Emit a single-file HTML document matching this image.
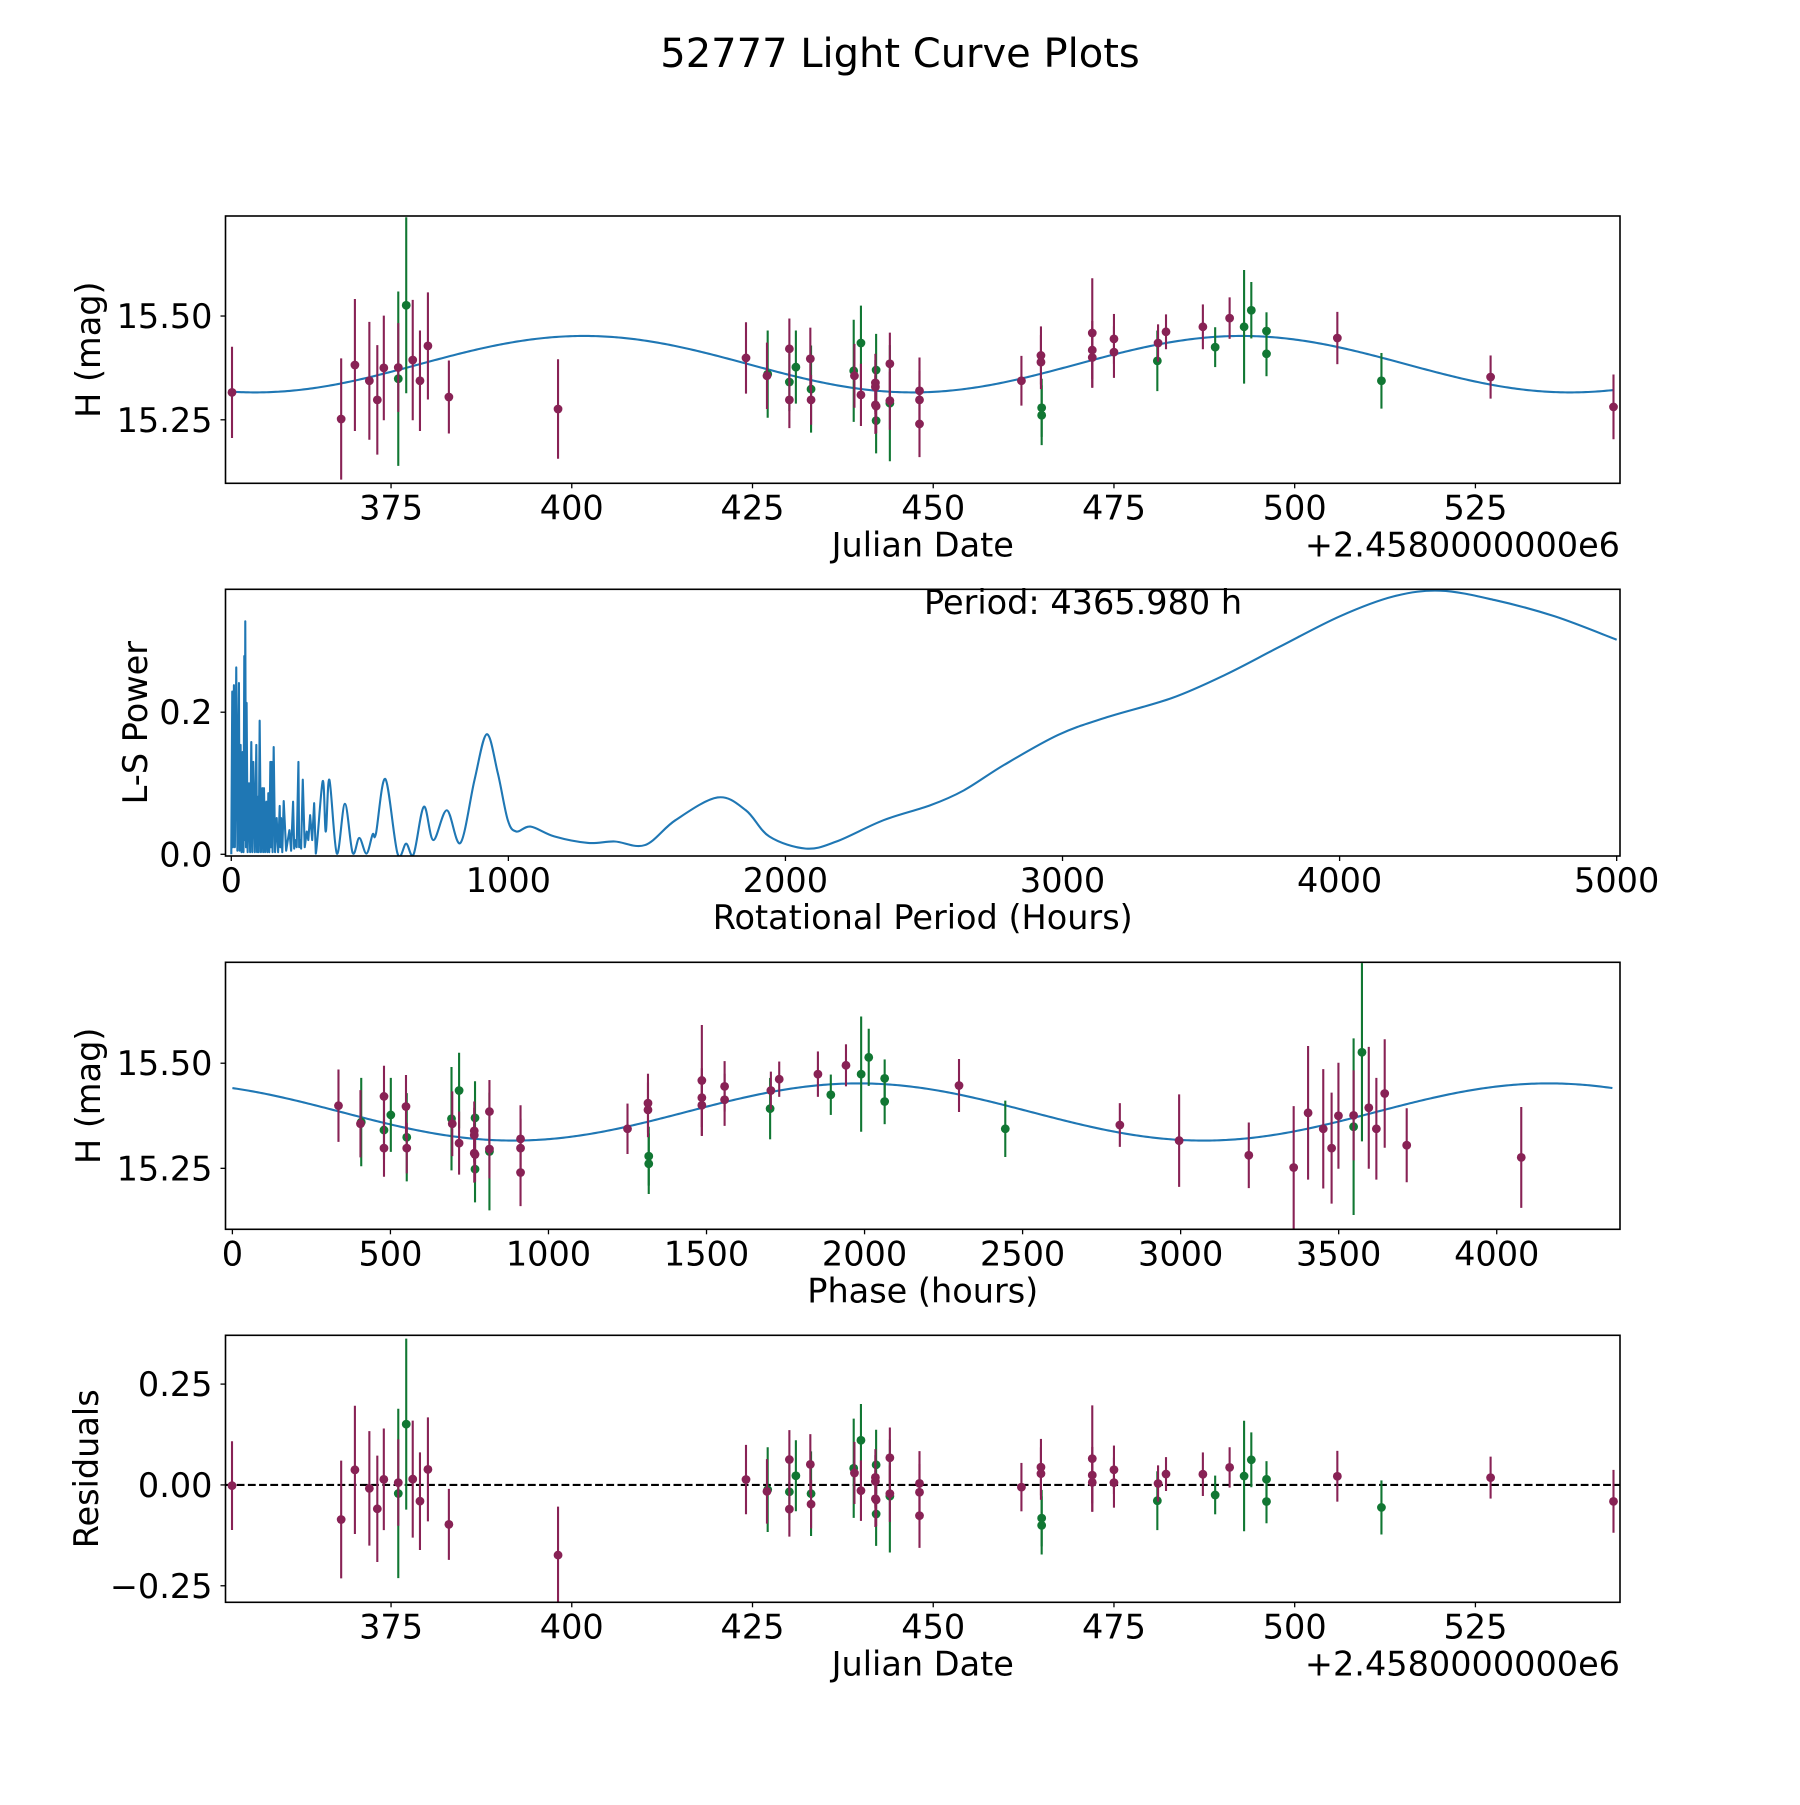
<!DOCTYPE html>
<html><head><meta charset="utf-8"><title>52777 Light Curve Plots</title>
<style>
html,body{margin:0;padding:0;background:#fff;}
svg text{font-family:"DejaVu Sans","Liberation Sans",sans-serif;fill:#000;}
</style></head>
<body>
<svg id="fig" xmlns="http://www.w3.org/2000/svg" width="1800" height="1800" viewBox="0 0 1800 1800">
<rect width="1800" height="1800" fill="#fff"/>
<text x="900" y="67" font-size="40" text-anchor="middle">52777 Light Curve Plots</text>
</svg>
<script>
// ---------- data ----------
const purpleJD  = [353.0,368.1,370.0,372.0,373.1,374.0,376.0,378.0,379.0,380.1,383.0,398.1,424.1,427.0,430.1,430.1,433.0,433.1,439.1,440.0,442.0,442.0,442.0,442.1,444.0,444.0,448.1,448.1,448.1,462.2,464.9,464.9,472.0,472.0,472.0,475.0,475.0,481.1,482.2,487.3,491.0,505.9,527.1,544.1];
const purpleMag = [15.316,15.252,15.382,15.344,15.298,15.375,15.376,15.394,15.344,15.428,15.305,15.276,15.399,15.356,15.421,15.298,15.397,15.298,15.356,15.310,15.339,15.329,15.286,15.283,15.385,15.296,15.320,15.298,15.240,15.344,15.405,15.389,15.459,15.418,15.400,15.445,15.413,15.435,15.462,15.474,15.495,15.447,15.353,15.281];
const purpleErr = [0.110,0.146,0.159,0.142,0.132,0.126,0.107,0.145,0.121,0.129,0.088,0.120,0.086,0.080,0.073,0.068,0.075,0.060,0.077,0.075,0.070,0.065,0.070,0.065,0.075,0.070,0.080,0.070,0.080,0.060,0.070,0.065,0.132,0.070,0.072,0.060,0.062,0.045,0.042,0.054,0.050,0.063,0.052,0.078];
const greenJD  = [376.0,377.1,427.1,430.1,431.0,433.1,439.0,440.0,442.1,442.1,444.0,465.0,465.0,481.0,489.0,493.0,494.0,496.1,496.1,512.0];
const greenMag = [15.349,15.526,15.360,15.341,15.377,15.324,15.368,15.435,15.370,15.248,15.290,15.279,15.261,15.392,15.425,15.474,15.514,15.464,15.409,15.344];
const greenErr = [0.210,0.212,0.105,0.070,0.088,0.105,0.123,0.090,0.087,0.079,0.140,0.070,0.072,0.073,0.048,0.137,0.068,0.045,0.054,0.067];
// fitted model parameters
const modelMean = [15.384];
const modelAmp = [0.068];
const modelPeak = [401.7];
const periodHours = [4365.98];
const phaseZeroJD = [228.2];
// Lomb-Scargle periodogram (period hours, power)
const lsPeriod = [0,3.5,6,9.5,13,17.9,22,27.6,30,33.6,37,40.9,44,46.9,48.5,50.5,53,55.3,59,63.8,68,72.2,76,79.5,85,90.3,93,96.4,99,102.4,107,112,115,118,122,126.5,130,133.7,137,141,143.5,145.8,149,153,158,163.9,169,174.7,177,179.6,184,189.2,198,209.7,216,223,227,230.2,236,242.3,245,247.1,252,258,265,272.4,278,284.5,292,299,305,
 330,341,354,381,410,438,462,488,510,522,556,600,631,658,695,729,778,827,878,922,962,998,1029,1080,1167,1288,1384,1493,1603,1755,1857,1942,2074,2184,2354,2523,2644,2790,2984,3153,3395,3589,3783,4001,4195,4364,4558,4776,5000];
const lsPower = [0,0.229,0.01,0.238,0.01,0.263,0.005,0.241,0.005,0.154,0.003,0.144,0.003,0.279,0.02,0.328,0.01,0.213,0.003,0.100,0.003,0.158,0.003,0.130,0.003,0.154,0.003,0.081,0.003,0.188,0.003,0.093,0.003,0.093,0.003,0.074,0.003,0.086,0.003,0.130,0.01,0.130,0.003,0.151,0.003,0.051,0.003,0.068,0.01,0.051,0.003,0.075,0.005,0.034,0.005,0.074,0.008,0.020,0.01,0.130,0.01,0.020,0.008,0.105,0.01,0.032,0.02,0.055,0.02,0.072,0.001,
 0.103,0.032,0.105,0.001,0.071,0.002,0.023,0.001,0.028,0.029,0.106,0.001,0.015,0.0,0.067,0.020,0.062,0.016,0.105,0.169,0.114,0.048,0.032,0.039,0.025,0.016,0.018,0.013,0.048,0.080,0.062,0.025,0.008,0.018,0.048,0.069,0.090,0.126,0.168,0.192,0.220,0.253,0.292,0.335,0.363,0.371,0.358,0.335,0.302];
const lsSmoothFrom = [305];
const jdTicks = [375,400,425,450,475,500,525];
const magTicks = [15.25,15.50];
const magTickLabels = ["15.25","15.50"];
const lsXTicks = [0,1000,2000,3000,4000,5000];
const lsYTicks = [0.0,0.2];
const lsYTickLabels = ["0.0","0.2"];
const phaseTicks = [0,500,1000,1500,2000,2500,3000,3500,4000];
const residTicks = [-0.25,0.0,0.25];
const residTickLabels = ["\u22120.25","0.00","0.25"];

// ---------- helpers ----------
const NS = "http://www.w3.org/2000/svg";
const svg = document.getElementById('fig');
const PURPLE = "#882255", GREEN = "#117733", BLUE = "#1f77b4";
const FS = 33.5;
function mk(tag, attrs, parent){ const e = document.createElementNS(NS, tag); for (const k in attrs) e.setAttribute(k, attrs[k]); (parent||svg).appendChild(e); return e; }
function model(t){ return modelMean[0] + modelAmp[0]*Math.cos(4*Math.PI*(t-modelPeak[0])/(periodHours[0]/24)); }
function phaseOf(t){ let p = ((t - phaseZeroJD[0])*24) % periodHours[0]; if (p<0) p += periodHours[0]; return p; }
const L = 225.5, R = 1620;
function panel(name, top, bottom, xmin, xmax, ymin, ymax){
  const g = mk('g', {});
  
  
  const id = 'clip-' + name;
  const cp = mk('clipPath', {id: id}, g);
  mk('rect', {x: L, y: top, width: R-L, height: bottom-top}, cp);
  const plot = mk('g', {'clip-path': 'url(#' + id + ')'}, g);
  return { g, plot, top, bottom,
    sx: v => L + (v - xmin)/(xmax - xmin)*(R-L),
    sy: v => bottom - (v - ymin)/(ymax - ymin)*(bottom-top) };
}
function frame(p){
  const f = mk('rect', {x: L, y: p.top, width: R-L, height: p.bottom-p.top, fill: 'none', stroke: '#000', 'stroke-width': 1.6}, p.g);
  
  
}
function xticks(p, vals, labels){
  vals.forEach((v,i) => {
    const x = p.sx(v);
    mk('line', {x1: x, x2: x, y1: p.bottom, y2: p.bottom+5, stroke: '#000', 'stroke-width': 1.3}, p.g);
    const t = mk('text', {x: x, y: p.bottom+36, 'font-size': FS, 'text-anchor': 'middle'}, p.g);
    
    
    t.textContent = labels ? labels[i] : String(v);
  });
}
function yticks(p, vals, labels){
  vals.forEach((v,i) => {
    const y = p.sy(v);
    mk('line', {x1: L-5, x2: L, y1: y, y2: y, stroke: '#000', 'stroke-width': 1.3}, p.g);
    const t = mk('text', {x: L-13, y: y+12, 'font-size': FS, 'text-anchor': 'end'}, p.g);
    
    
    t.textContent = labels[i];
  });
}
function xlabel(p, txt, name){
  const t = mk('text', {x: (L+R)/2, y: p.bottom+73, 'font-size': FS, 'text-anchor': 'middle'}, p.g);
  
  
  t.textContent = txt;
}
function ylabel(p, txt, x, name){
  const cy = (p.top+p.bottom)/2;
  const t = mk('text', {x: x, y: cy, 'font-size': FS, 'text-anchor': 'middle', transform: 'rotate(-90 ' + x + ' ' + cy + ')'}, p.g);
  
  
  t.textContent = txt;
}
function offsetText(p){
  const t = mk('text', {x: R, y: p.bottom+73, 'font-size': FS, 'text-anchor': 'end'}, p.g);
  
  
  t.textContent = '+2.4580000000e6';
}
function points(p, xs, ys, es, color, name){
  const g = mk('g', {}, p.plot);
  
  
  xs.forEach((xv,i) => {
    const x = p.sx(xv);
    const bar = mk('line', {x1: x, x2: x, y1: p.sy(ys[i]-es[i]), y2: p.sy(ys[i]+es[i]), stroke: color, 'stroke-width': 2.1}, g);
    
    
  });
  xs.forEach((xv,i) => {
    const c = mk('circle', {cx: p.sx(xv), cy: p.sy(ys[i]), r: 4.4, fill: color}, g);
    
    
  });
}
function curve(p, f, a, b, name){
  let d = '';
  const n = 600;
  for (let i=0;i<=n;i++){ const v = a + (b-a)*i/n; d += (i?'L':'M') + p.sx(v).toFixed(2) + ',' + p.sy(f(v)).toFixed(2); }
  const path = mk('path', {d: d, fill: 'none', stroke: BLUE, 'stroke-width': 2.1}, p.plot);
  
  
}

const jdMin = Math.min(...purpleJD, ...greenJD), jdMax = Math.max(...purpleJD, ...greenJD);

// ---------- panel 1 ----------
const p1 = panel('light-curve-panel', 216, 483.3, 352.1, 545.0, 15.097, 15.741);
curve(p1, model, jdMin, jdMax, 'model-curve');
points(p1, greenJD, greenMag, greenErr, GREEN, 'green-filter-points');
points(p1, purpleJD, purpleMag, purpleErr, PURPLE, 'purple-filter-points');
frame(p1); xticks(p1, jdTicks); yticks(p1, magTicks, magTickLabels);
xlabel(p1, 'Julian Date', 'x-axis-title'); ylabel(p1, 'H (mag)', 100, 'y-axis-title'); offsetText(p1);

// ---------- panel 2 ----------
const p2 = panel('periodogram-panel', 589.3, 856, -20.9, 5012, -0.0024, 0.373);
(function(){
  const pts = lsPeriod.map((v,i) => [p2.sx(v), p2.sy(lsPower[i])]);
  let d = 'M' + pts[0][0].toFixed(2) + ',' + pts[0][1].toFixed(2);
  for (let i=1;i<pts.length;i++){
    if (lsPeriod[i-1] < lsSmoothFrom[0]) { d += 'L' + pts[i][0].toFixed(2) + ',' + pts[i][1].toFixed(2); continue; }
    const p0 = pts[Math.max(i-2,0)], a = pts[i-1], b = pts[i], p3 = pts[Math.min(i+1, pts.length-1)];
    const c1x = a[0] + (b[0]-p0[0])/6, c1y = a[1] + (b[1]-p0[1])/6;
    const c2x = b[0] - (p3[0]-a[0])/6, c2y = b[1] - (p3[1]-a[1])/6;
    d += 'C' + c1x.toFixed(2) + ',' + c1y.toFixed(2) + ' ' + c2x.toFixed(2) + ',' + c2y.toFixed(2) + ' ' + b[0].toFixed(2) + ',' + b[1].toFixed(2);
  }
  const path = mk('path', {d: d, fill: 'none', stroke: BLUE, 'stroke-width': 2.1, 'stroke-linejoin': 'round'}, p2.plot);
  
  
})();
frame(p2); xticks(p2, lsXTicks); yticks(p2, lsYTicks, lsYTickLabels);
xlabel(p2, 'Rotational Period (Hours)', 'x-axis-title'); ylabel(p2, 'L-S Power', 147, 'y-axis-title');
(function(){
  const t = mk('text', {x: p2.sx(2500), y: 614, 'font-size': FS}, p2.g);
  
  
  t.textContent = 'Period: ' + periodHours[0].toFixed(3) + ' h';
})();

// ---------- panel 3 ----------
const p3 = panel('phase-panel', 962.3, 1229.3, -21.8, 4390, 15.105, 15.740);
curve(p3, ph => model(phaseZeroJD[0] + ph/24), 0, periodHours[0], 'phase-model-curve');
points(p3, greenJD.map(phaseOf), greenMag, greenErr, GREEN, 'green-phase-points');
points(p3, purpleJD.map(phaseOf), purpleMag, purpleErr, PURPLE, 'purple-phase-points');
frame(p3); xticks(p3, phaseTicks); yticks(p3, magTicks, magTickLabels);
xlabel(p3, 'Phase (hours)', 'x-axis-title'); ylabel(p3, 'H (mag)', 100, 'y-axis-title');

// ---------- panel 4 ----------
const p4 = panel('residuals-panel', 1335.3, 1602.3, 352.1, 545.0, -0.291, 0.371);
(function(){
  const z = mk('line', {x1: L, x2: R, y1: p4.sy(0), y2: p4.sy(0), stroke: '#000', 'stroke-width': 2.1, 'stroke-dasharray': '7.8,3.4'}, p4.plot);
  
  
})();
points(p4, greenJD, greenMag.map((m,i) => m - model(greenJD[i])), greenErr, GREEN, 'green-residual-points');
points(p4, purpleJD, purpleMag.map((m,i) => m - model(purpleJD[i])), purpleErr, PURPLE, 'purple-residual-points');
frame(p4); xticks(p4, jdTicks); yticks(p4, residTicks, residTickLabels);
xlabel(p4, 'Julian Date', 'x-axis-title'); ylabel(p4, 'Residuals', 98, 'y-axis-title'); offsetText(p4);
</script>
</body></html>
